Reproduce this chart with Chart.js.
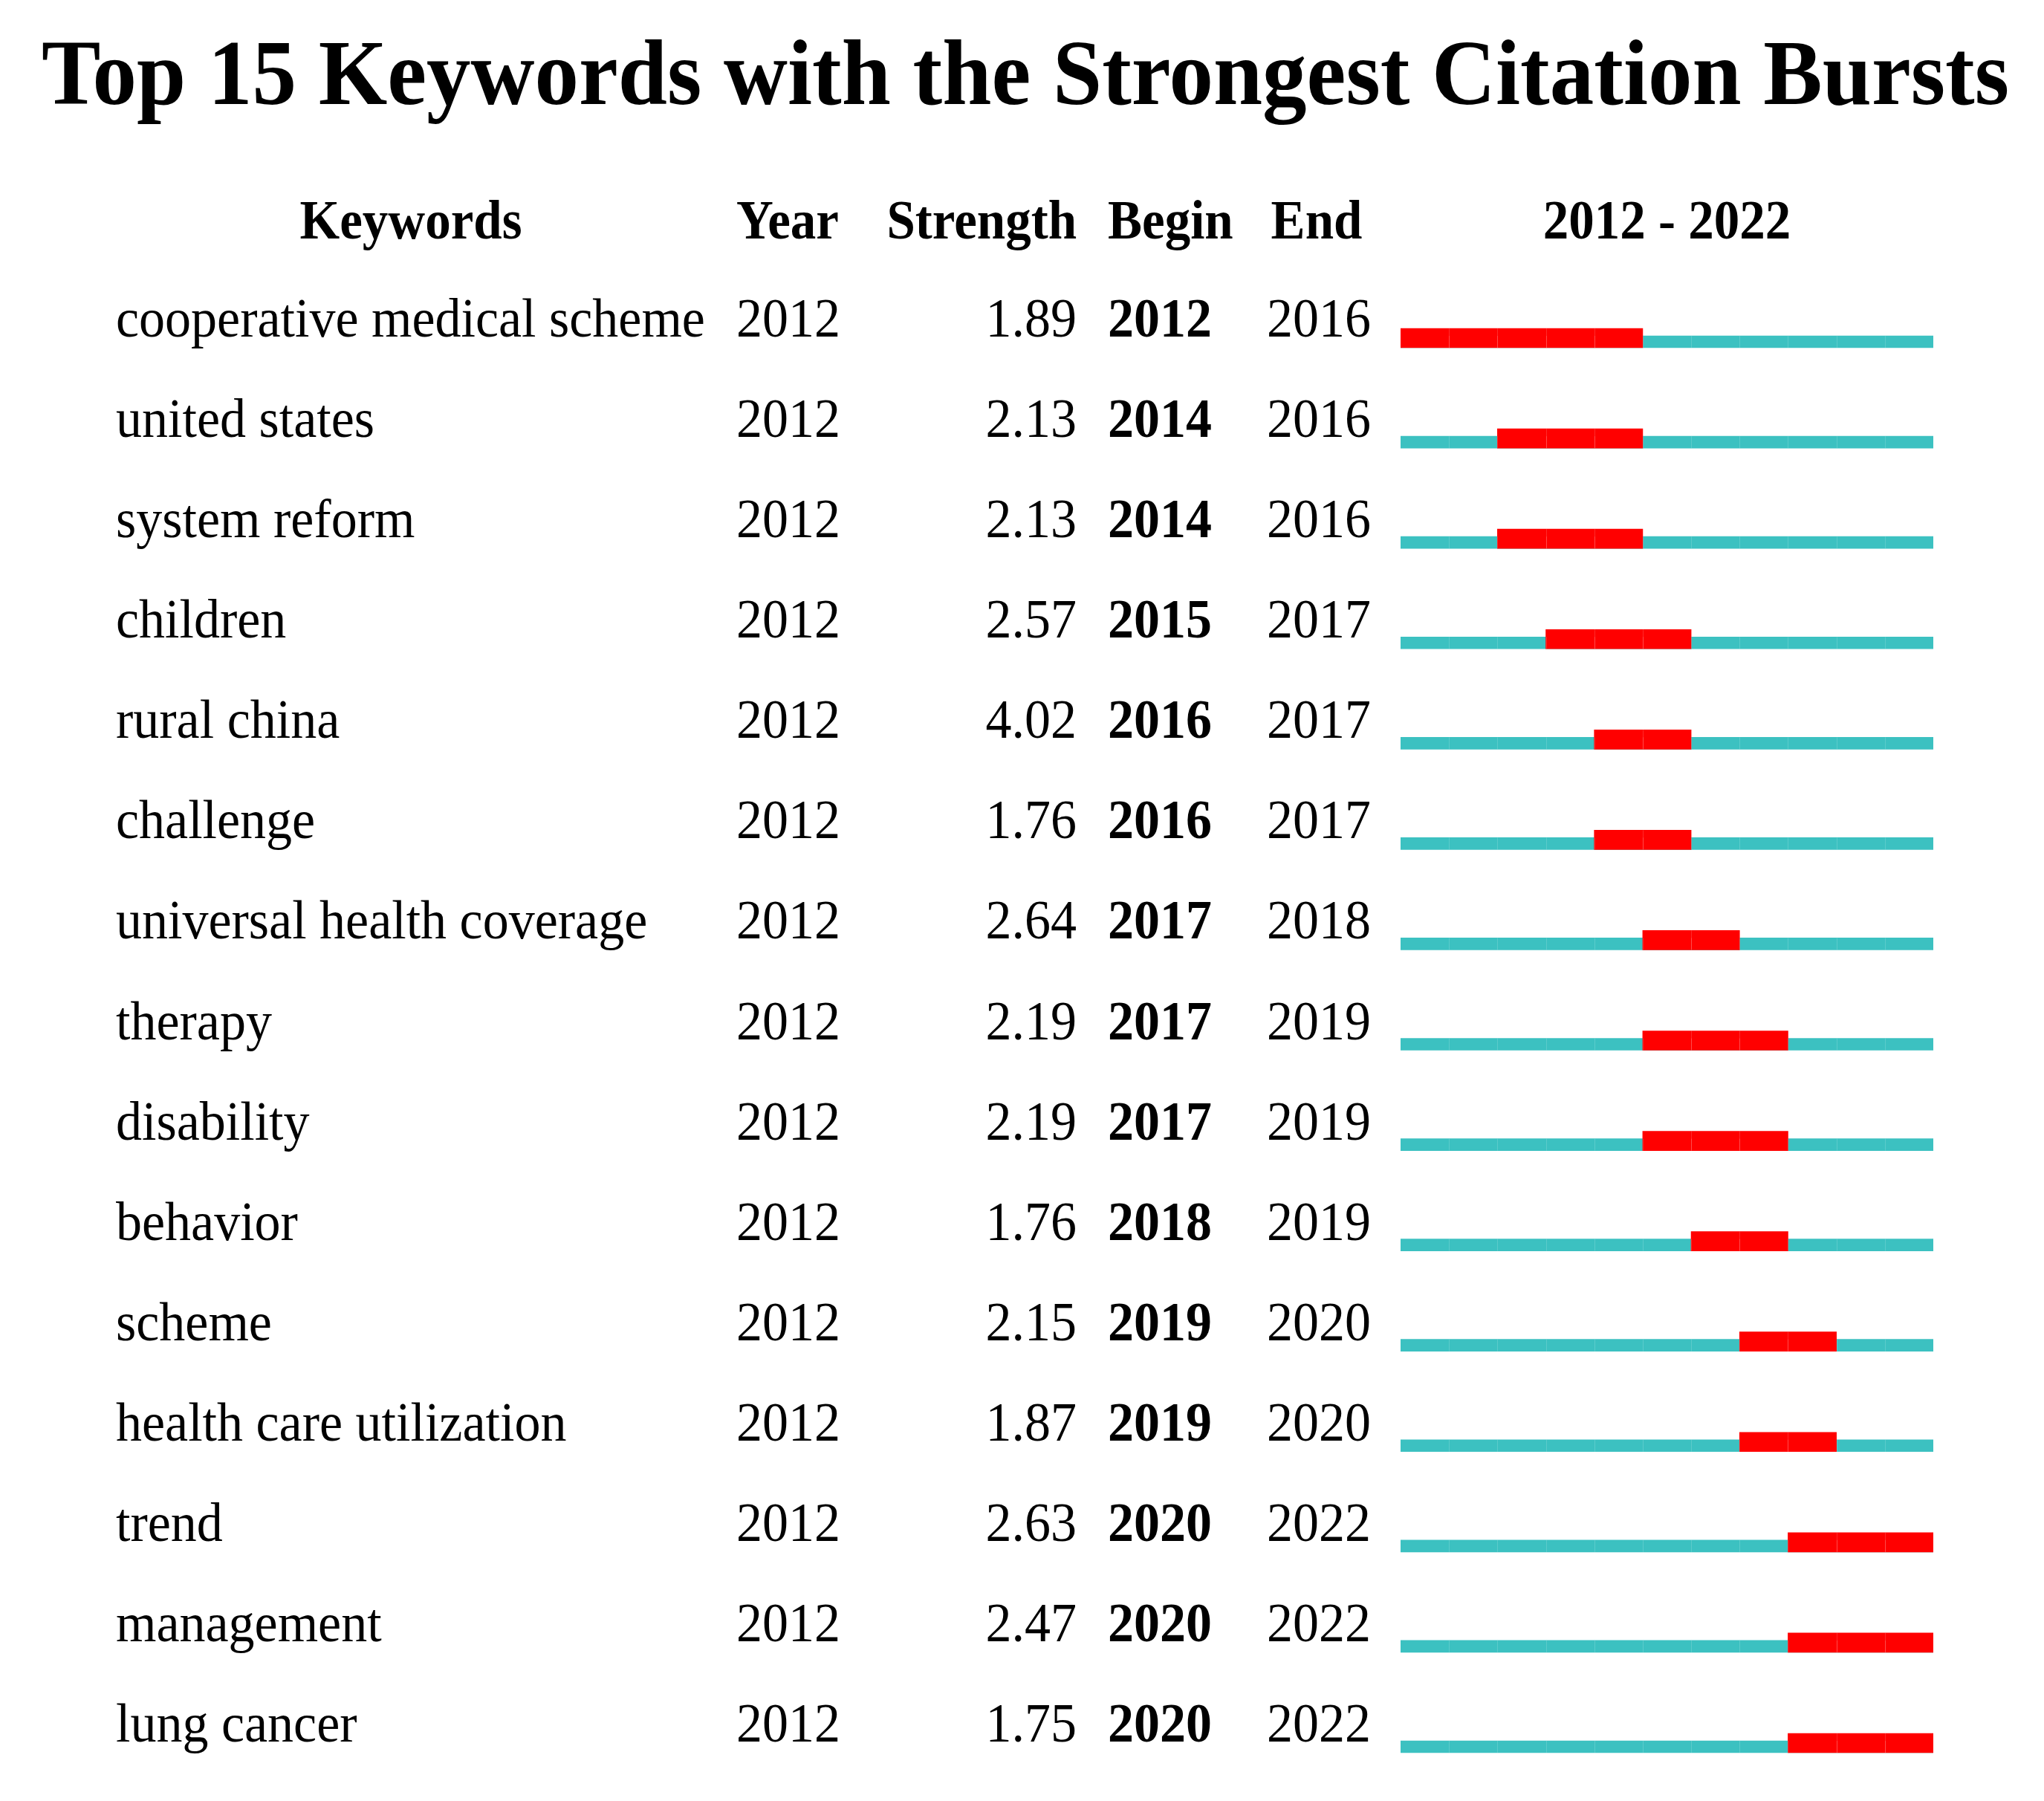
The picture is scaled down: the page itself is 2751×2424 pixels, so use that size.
<!DOCTYPE html>
<html>
<head>
<meta charset="utf-8">
<script src="https://cdn.jsdelivr.net/npm/chart.js@4"></script>
<style>
  html, body { margin: 0; padding: 0; background: #ffffff; }
  #wrap { width: 2751px; height: 2424px; position: relative; }
</style>
</head>
<body>
<div id="wrap"><canvas id="c"></canvas></div>
<script>
// ---- Data ----
const titleText = 'Top 15 Keywords with the Strongest Citation Bursts';
const headers = ['Keywords', 'Year', 'Strength', 'Begin', 'End'];
const rangeStart = 2012;
const rangeEnd = 2022;
const keywords = [
  'cooperative medical scheme', 'united states', 'system reform', 'children',
  'rural china', 'challenge', 'universal health coverage', 'therapy',
  'disability', 'behavior', 'scheme', 'health care utilization',
  'trend', 'management', 'lung cancer'
];
const years = [2012, 2012, 2012, 2012, 2012, 2012, 2012, 2012, 2012, 2012, 2012, 2012, 2012, 2012, 2012];
const strengths = [1.89, 2.13, 2.13, 2.57, 4.02, 1.76, 2.64, 2.19, 2.19, 1.76, 2.15, 1.87, 2.63, 2.47, 1.75];
const begins = [2012, 2014, 2014, 2015, 2016, 2016, 2017, 2017, 2017, 2018, 2019, 2019, 2020, 2020, 2020];
const ends = [2016, 2016, 2016, 2017, 2017, 2017, 2018, 2019, 2019, 2019, 2020, 2020, 2022, 2022, 2022];

// ---- Derived bar data ----
const baseData = keywords.map(() => [rangeStart, rangeEnd + 1]);
const burstData = begins.map((b, i) => [b, ends[i] + 1]);

const SERIF = '"Liberation Serif", "Times New Roman", "DejaVu Serif", serif';
const RED_H = 26, TEAL_H = 16;

function txt(ctx, s, x, y, font, align, sy) {
  ctx.save();
  ctx.font = font;
  ctx.textAlign = align;
  ctx.textBaseline = 'alphabetic';
  ctx.fillStyle = '#000000';
  ctx.translate(x, y);
  ctx.scale(1, sy || 1.07);
  ctx.fillText(s, 0, 0);
  ctx.restore();
}

const shiftPlugin = {
  id: 'shift',
  beforeDatasetDraw(chart, args) {
    if (args.index === 1) {
      chart.ctx.save();
      chart.ctx.translate(0, (RED_H - TEAL_H) / 2);
    }
  },
  afterDatasetDraw(chart, args) {
    if (args.index === 1) chart.ctx.restore();
  }
};

const tablePlugin = {
  id: 'table',
  afterDatasetsDraw(chart) {
    const ctx = chart.ctx;
    const xs = chart.scales.x;
    const ys = chart.scales.y;
    // faint year cell separators
    chart.data.datasets.forEach((ds, di) => {
      const meta = chart.getDatasetMeta(di);
      const off = di === 1 ? (RED_H - TEAL_H) / 2 : 0;
      meta.data.forEach((el) => {
        const p = el.getProps(['x', 'y', 'base', 'height'], true);
        const x0 = Math.min(p.x, p.base), x1 = Math.max(p.x, p.base);
        ctx.save();
        ctx.strokeStyle = 'rgba(255,255,255,0.16)';
        ctx.lineWidth = 1;
        for (let yr = rangeStart + 1; yr <= rangeEnd; yr++) {
          const px = Math.round(xs.getPixelForValue(yr)) + 0.5;
          if (px > x0 + 1 && px < x1 - 1) {
            ctx.beginPath();
            ctx.moveTo(px, p.y + off - p.height / 2);
            ctx.lineTo(px, p.y + off + p.height / 2);
            ctx.stroke();
          }
        }
        ctx.restore();
      });
    });

    // title
    txt(ctx, titleText, 1380, 140, 'bold 119px ' + SERIF, 'center', 1.05);
    // headers
    const hf = 'bold 69px ' + SERIF;
    const hy = 321;
    txt(ctx, headers[0], 553, hy, hf, 'center');
    txt(ctx, headers[1], 991, hy, hf, 'left');
    txt(ctx, headers[2], 1449, hy, hf, 'right');
    txt(ctx, headers[3], 1491, hy, hf, 'left');
    txt(ctx, headers[4], 1772, hy, hf, 'center');
    const rangeCenter = (xs.getPixelForValue(rangeStart) + xs.getPixelForValue(rangeEnd + 1)) / 2;
    txt(ctx, rangeStart + ' - ' + rangeEnd, rangeCenter, hy, hf, 'center');

    // rows
    const rf = '70px ' + SERIF;
    const bf = 'bold 70px ' + SERIF;
    keywords.forEach((k, i) => {
      const y = ys.getPixelForValue(i) - 2;
      txt(ctx, k, 156, y, rf, 'left');
      txt(ctx, String(years[i]), 991, y, rf, 'left');
      txt(ctx, strengths[i].toFixed(2), 1449, y, rf, 'right');
      txt(ctx, String(begins[i]), 1491, y, bf, 'left');
      txt(ctx, String(ends[i]), 1705, y, rf, 'left');
    });
  }
};

new Chart(document.getElementById('c'), {
  type: 'bar',
  data: {
    labels: keywords,
    datasets: [
      {
        label: 'Burst',
        data: burstData,
        backgroundColor: '#FF0000',
        barThickness: RED_H,
        grouped: false,
        order: 0,
        borderSkipped: false,
        borderWidth: 0
      },
      {
        label: 'Range',
        data: baseData,
        backgroundColor: '#3CC1C1',
        barThickness: TEAL_H,
        grouped: false,
        order: 1,
        borderSkipped: false,
        borderWidth: 0
      }
    ]
  },
  options: {
    indexAxis: 'y',
    responsive: true,
    maintainAspectRatio: false,
    devicePixelRatio: 1,
    animation: false,
    layout: { padding: { left: 1885, right: 149, top: 387.5, bottom: 10.5 } },
    plugins: { legend: { display: false }, tooltip: { enabled: false }, title: { display: false } },
    scales: {
      x: { type: 'linear', min: rangeStart, max: rangeEnd + 1, display: false, grid: { display: false } },
      y: { type: 'category', display: false, offset: true, grid: { display: false } }
    }
  },
  plugins: [shiftPlugin, tablePlugin]
});
</script>
</body>
</html>
